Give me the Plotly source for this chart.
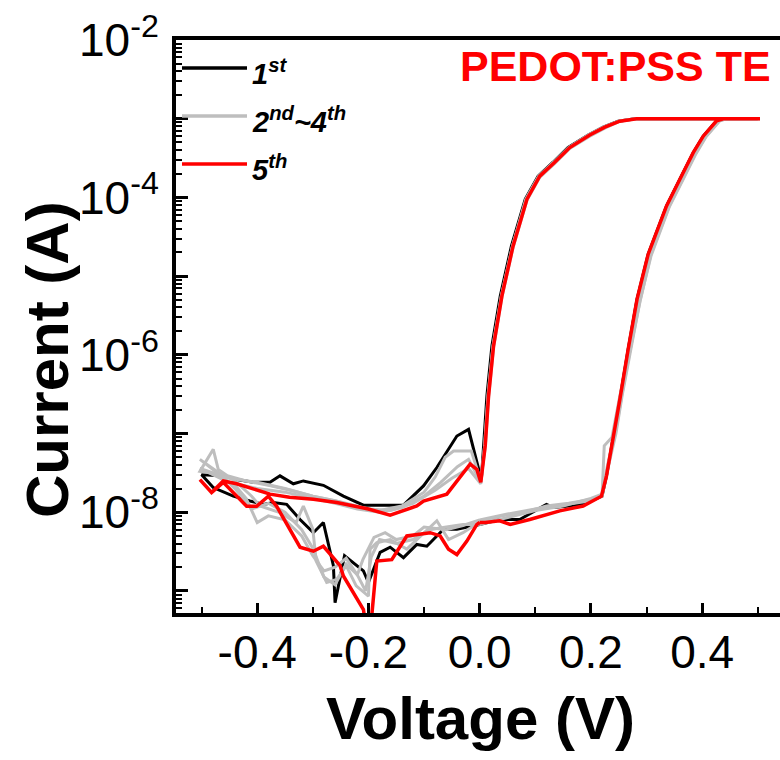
import plotly.graph_objects as go

# ---------------- data ----------------
# sweep order for every cycle: 0 -> +0.5 -> 0 -> -0.5 -> 0
black_v = [0.0, 0.036, 0.072, 0.12, 0.132, 0.16, 0.19, 0.22, 0.228, 0.24, 0.252, 0.267, 0.283, 0.303, 0.324, 0.336, 0.36, 0.384, 0.402, 0.426, 0.44, 0.5,
           0.5, 0.279, 0.249, 0.222, 0.195, 0.159, 0.132, 0.105, 0.082, 0.066, 0.057, 0.037, 0.022, 0.013, 0.007, 0.003,
           -0.02, -0.041, -0.077, -0.101, -0.137, -0.161, -0.209, -0.245, -0.281, -0.317, -0.335, -0.359, -0.377, -0.407, -0.437, -0.461, -0.5,
           -0.479, -0.443, -0.413, -0.389, -0.371, -0.347, -0.323, -0.299, -0.281, -0.263, -0.26, -0.251, -0.243, -0.209, -0.2, -0.179, -0.161, -0.137, -0.113, -0.095, -0.065, -0.041, -0.005, 0.0]
black_i = [7.0e-9, 8.1e-9, 8.1e-9, 1.26e-8, 1.15e-8, 1.2e-8, 1.3e-8, 1.6e-8, 2.9e-8, 8.5e-8, 2.7e-7, 1.18e-6, 5.1e-6, 1.9e-5, 4.6e-5, 7.8e-5, 1.7e-4, 3.7e-4, 6.0e-4, 9.4e-4, 1e-3, 1e-3,
           1e-3, 1e-3, 9.3e-4, 7.8e-4, 6.2e-4, 4.3e-4, 2.8e-4, 1.86e-4, 9.5e-5, 3.9e-5, 2.4e-5, 5.6e-6, 1.3e-6, 3.0e-7, 7.0e-8, 2.6e-8,
           1.13e-7, 9.3e-8, 3.7e-8, 2.16e-8, 1.23e-8, 1.23e-8, 1.23e-8, 1.6e-8, 2.2e-8, 2.5e-8, 2.3e-8, 2.9e-8, 2.4e-8, 2.4e-8, 2.6e-8, 2.9e-8, 3.0e-8,
           2.06e-8, 1.6e-8, 1.39e-8, 1.26e-8, 1.33e-8, 1.26e-8, 8.1e-9, 5.5e-9, 7.4e-9, 2.1e-9, 7.1e-10, 1.4e-9, 2.8e-9, 1.8e-9, 1.28e-9, 3.1e-9, 3.6e-9, 2.65e-9, 3.9e-9, 3.7e-9, 6.1e-9, 6.1e-9, 7.0e-9, 7.0e-9]

g2_v = [0.0, 0.04, 0.08, 0.12, 0.16, 0.2, 0.22, 0.224, 0.238, 0.252, 0.272, 0.289, 0.308, 0.329, 0.341, 0.365, 0.389, 0.407, 0.431, 0.444, 0.504,
        0.504, 0.282, 0.252, 0.225, 0.198, 0.162, 0.135, 0.108, 0.085, 0.069, 0.06, 0.04, 0.025, 0.016, 0.01, 0.002,
        -0.015, -0.047, -0.062, -0.08, -0.1, -0.14, -0.18, -0.22, -0.26, -0.3, -0.34, -0.38, -0.42, -0.46, -0.503,
        -0.479, -0.47, -0.44, -0.41, -0.395, -0.359, -0.33, -0.317, -0.3, -0.294, -0.275, -0.257, -0.24, -0.222, -0.2, -0.197, -0.185, -0.161, -0.131, -0.077, -0.056, -0.03, 0.0]
g2_i = [7.5e-9, 9e-9, 1.0e-8, 1.2e-8, 1.3e-8, 1.45e-8, 1.6e-8, 7e-8, 9e-8, 3e-7, 1.3e-6, 5e-6, 1.9e-5, 4.6e-5, 7.8e-5, 1.7e-4, 3.7e-4, 6e-4, 9.4e-4, 1e-3, 1e-3,
        1e-3, 1e-3, 9.3e-4, 7.6e-4, 6.0e-4, 4.2e-4, 2.7e-4, 1.8e-4, 9.2e-5, 3.8e-5, 2.3e-5, 5.4e-6, 1.25e-6, 2.9e-7, 6.8e-8, 2.5e-8,
        6.0e-8, 6.0e-8, 5.0e-8, 2.8e-8, 1.8e-8, 1.2e-8, 1.05e-8, 1.15e-8, 1.4e-8, 1.6e-8, 1.9e-8, 2.2e-8, 2.5e-8, 3.0e-8, 3.3e-8,
        6.3e-8, 3.5e-8, 2.5e-8, 1.6e-8, 1.2e-8, 9.9e-9, 7.4e-9, 1.2e-8, 6.1e-9, 2.4e-9, 1.28e-9, 1.4e-9, 2.1e-9, 1.16e-9, 8.6e-10, 3.4e-9, 4.1e-9, 4.5e-9, 3.4e-9, 7.8e-9, 4.5e-9, 5.5e-9, 7.5e-9]

g3_v = [0.0, 0.05, 0.1, 0.15, 0.2, 0.22, 0.228, 0.245, 0.256, 0.272, 0.288, 0.308, 0.329, 0.341, 0.365, 0.389, 0.407, 0.431, 0.443, 0.504,
        0.504, 0.28, 0.25, 0.222, 0.195, 0.16, 0.133, 0.106, 0.083, 0.068, 0.059, 0.039, 0.024, 0.015, 0.009, 0.002,
        -0.02, -0.04, -0.07, -0.1, -0.14, -0.18, -0.22, -0.26, -0.3, -0.35, -0.4, -0.45, -0.503,
        -0.47, -0.44, -0.41, -0.38, -0.35, -0.32, -0.3, -0.28, -0.26, -0.24, -0.22, -0.21, -0.19, -0.17, -0.15, -0.12, -0.1, -0.06, -0.03, 0.0]
g3_i = [8e-9, 9.5e-9, 1.1e-8, 1.25e-8, 1.4e-8, 1.6e-8, 3e-8, 1e-7, 3e-7, 1.2e-6, 4.8e-6, 1.8e-5, 4.5e-5, 7.6e-5, 1.65e-4, 3.6e-4, 5.9e-4, 9.3e-4, 1e-3, 1e-3,
        1e-3, 1e-3, 9.3e-4, 7.8e-4, 6.2e-4, 4.3e-4, 2.8e-4, 1.86e-4, 9.5e-5, 3.9e-5, 2.4e-5, 5.6e-6, 1.3e-6, 3.0e-7, 7.0e-8, 2.4e-8,
        4.7e-8, 3.8e-8, 2.4e-8, 1.6e-8, 1.15e-8, 1.0e-8, 1.1e-8, 1.3e-8, 1.5e-8, 1.8e-8, 2.0e-8, 2.4e-8, 4.7e-8,
        3.2e-8, 2.0e-8, 1.1e-8, 1.3e-8, 1.0e-8, 6e-9, 3.5e-9, 1.5e-9, 1.2e-9, 2.2e-9, 1.6e-9, 2.5e-9, 4.8e-9, 5.5e-9, 4.5e-9, 5e-9, 6.5e-9, 6e-9, 6.8e-9, 8e-9]

g4_v = [0.0, 0.05, 0.1, 0.15, 0.2, 0.22, 0.23, 0.245, 0.256, 0.271, 0.287, 0.307, 0.328, 0.34, 0.364, 0.388, 0.406, 0.43, 0.442, 0.504,
        0.504, 0.281, 0.251, 0.224, 0.197, 0.161, 0.134, 0.107, 0.084, 0.068, 0.059, 0.039, 0.024, 0.015, 0.009, 0.002,
        -0.02, -0.05, -0.08, -0.12, -0.16, -0.2, -0.25, -0.3, -0.35, -0.4, -0.45, -0.503,
        -0.47, -0.44, -0.42, -0.4, -0.38, -0.35, -0.32, -0.3, -0.28, -0.26, -0.24, -0.22, -0.205, -0.195, -0.18, -0.15, -0.12, -0.09, -0.06, -0.03, 0.0]
g4_i = [7e-9, 8.5e-9, 1.05e-8, 1.2e-8, 1.5e-8, 1.7e-8, 4e-8, 1.1e-7, 3.2e-7, 1.2e-6, 5e-6, 1.9e-5, 4.6e-5, 7.8e-5, 1.7e-4, 3.7e-4, 6e-4, 9.4e-4, 1e-3, 1e-3,
        1e-3, 1e-3, 9.3e-4, 7.8e-4, 6.2e-4, 4.3e-4, 2.8e-4, 1.86e-4, 9.5e-5, 3.9e-5, 2.4e-5, 5.6e-6, 1.3e-6, 3.0e-7, 7.0e-8, 2.3e-8,
        3.6e-8, 2.7e-8, 1.9e-8, 1.3e-8, 1.05e-8, 1.1e-8, 1.35e-8, 1.6e-8, 2.0e-8, 2.4e-8, 2.7e-8, 3.6e-8,
        2.8e-8, 2.2e-8, 1.5e-8, 7.4e-9, 9e-9, 8e-9, 5e-9, 2.8e-9, 1.8e-9, 2.0e-9, 2.6e-9, 1.6e-9, 1.0e-9, 2.7e-9, 4.5e-9, 4.0e-9, 4.5e-9, 6e-9, 6.5e-9, 7e-9, 7e-9]

red_v = [0.0, 0.01, 0.036, 0.055, 0.09, 0.144, 0.186, 0.219, 0.228, 0.24, 0.252, 0.267, 0.283, 0.303, 0.324, 0.336, 0.36, 0.384, 0.402, 0.426, 0.438, 0.504,
         0.504, 0.282, 0.252, 0.225, 0.198, 0.162, 0.135, 0.108, 0.085, 0.069, 0.06, 0.04, 0.025, 0.016, 0.01, 0.002,
         -0.005, -0.017, -0.048, -0.059, -0.101, -0.113, -0.161, -0.2, -0.257, -0.299, -0.342, -0.377, -0.437, -0.461, -0.482, -0.503,
         -0.482, -0.461, -0.437, -0.419, -0.401, -0.38, -0.365, -0.323, -0.299, -0.281, -0.251, -0.245, -0.209, -0.199, -0.185, -0.158, -0.131, -0.089, -0.071, -0.056, -0.041, -0.023, -0.005, 0.0]
red_i = [7.4e-9, 7.4e-9, 7.8e-9, 7.0e-9, 8.1e-9, 1.04e-8, 1.2e-8, 1.6e-8, 2.9e-8, 8.5e-8, 2.7e-7, 1.18e-6, 5.1e-6, 1.9e-5, 4.6e-5, 7.8e-5, 1.7e-4, 3.7e-4, 6.0e-4, 9.4e-4, 1e-3, 1e-3,
         1e-3, 1e-3, 9.3e-4, 7.8e-4, 6.2e-4, 4.3e-4, 2.8e-4, 1.86e-4, 9.5e-5, 3.9e-5, 2.4e-5, 5.6e-6, 1.3e-6, 3.0e-7, 7.0e-8, 2.4e-8,
         3.5e-8, 4.1e-8, 2.16e-8, 1.7e-8, 1.39e-8, 1.2e-8, 9.2e-9, 1.1e-8, 1.33e-8, 1.46e-8, 1.55e-8, 1.7e-8, 2.3e-8, 2.5e-8, 1.78e-8, 2.6e-8,
         1.78e-8, 2.4e-8, 1.6e-8, 1.19e-8, 1.19e-8, 1.6e-8, 1.19e-8, 3.6e-9, 3.2e-9, 3.7e-9, 2.1e-9, 1.55e-9, 5.8e-10, 2e-10, 2.4e-9, 2.5e-9, 5.0e-9, 5.5e-9, 5.0e-9, 3.4e-9, 2.9e-9, 4.3e-9, 7.0e-9, 7.4e-9]

legend_labels = ["<i>1<sup>st</sup></i>", "<i>2<sup>nd</sup>~4<sup>th</sup></i>", "<i>5<sup>th</sup></i>"]
x_ticks = [-0.4, -0.2, 0.0, 0.2, 0.4]
x_ticktext = ["-0.4", "-0.2", "0.0", "0.2", "0.4"]
y_exponents = [-9, -8, -7, -6, -5, -4, -3, -2]
y_labelled = [-8, -6, -4, -2]

# ---------------- styling ----------------
FONT = "Liberation Sans, Arial, sans-serif"
BLACK, GRAY, RED = "#000000", "#bebebe", "#ff0000"
W, H = 780, 760
ML, MR, MT, MB = 176, 0, 40, 147
PW, PH = W - ML - MR, H - MT - MB


def px_x(px):
    return (px - ML) / PW


def px_y(py):
    return (H - MB - py) / PH


fig = go.Figure()
fig.add_trace(go.Scatter(x=black_v, y=black_i, mode="lines", name="1st",
                         line=dict(color=BLACK, width=3), showlegend=False))
for name, v, i in [("2nd", g2_v, g2_i), ("3rd", g3_v, g3_i), ("4th", g4_v, g4_i)]:
    fig.add_trace(go.Scatter(x=v, y=i, mode="lines", name=name,
                             line=dict(color=GRAY, width=3), showlegend=False))
fig.add_trace(go.Scatter(x=red_v, y=red_i, mode="lines", name="5th",
                         line=dict(color=RED, width=3.5), showlegend=False))

# minor tick positions for the log axis
minor_vals = [k * 10.0 ** e for e in range(-10, -1) for k in range(2, 10)]

fig.update_xaxes(range=[-0.546, 0.540], showgrid=False, zeroline=False,
                 showline=True, linewidth=4, linecolor=BLACK, mirror=True,
                 ticks="inside", ticklen=10, tickwidth=2.5, tickcolor=BLACK,
                 tickmode="array", tickvals=x_ticks, ticktext=x_ticktext,
                 ticklabelstandoff=-4,
                 tickfont=dict(family=FONT, size=46, color=BLACK),
                 minor=dict(ticks="inside", ticklen=6, tickwidth=2, tickcolor=BLACK,
                            tickmode="array", tickvals=[-0.5, -0.3, -0.1, 0.1, 0.3, 0.5]))
fig.update_yaxes(type="log", range=[-9.28, -2.0], showgrid=False, zeroline=False,
                 showline=True, linewidth=4, linecolor=BLACK, mirror=False,
                 ticks="inside", ticklen=12, tickwidth=2.5, tickcolor=BLACK,
                 tickmode="array", tickvals=[10.0 ** e for e in y_exponents],
                 ticktext=[("10<sup>%d</sup>" % e) if e in y_labelled else "" for e in y_exponents],
                 ticklabelstandoff=4,
                 tickfont=dict(family=FONT, size=46, color=BLACK),
                 minor=dict(ticks="inside", ticklen=6, tickwidth=2, tickcolor=BLACK,
                            tickmode="array", tickvals=minor_vals))

shapes = []
annotations = []
legend_rows = [(68, BLACK), (116, GRAY), (164, RED)]
for (ly, col), label in zip(legend_rows, legend_labels):
    shapes.append(dict(type="line", xref="paper", yref="paper",
                       x0=px_x(182), x1=px_x(247), y0=px_y(ly), y1=px_y(ly),
                       line=dict(color=col, width=3.5)))
    annotations.append(dict(text=label, xref="paper", yref="paper",
                            x=px_x(250), y=px_y(ly + 4), xanchor="left", yanchor="middle",
                            showarrow=False,
                            font=dict(family=FONT, size=29, color=BLACK, weight="bold")))

annotations.append(dict(text="PEDOT:PSS TE", xref="paper", yref="paper",
                        x=px_x(773), y=px_y(66), xanchor="right", yanchor="middle",
                        showarrow=False,
                        font=dict(family=FONT, size=43, color=RED, weight="bold")))
annotations.append(dict(text="Voltage (V)", xref="paper", yref="paper",
                        x=px_x(480), y=px_y(718), xanchor="center", yanchor="middle",
                        showarrow=False,
                        font=dict(family=FONT, size=60, color=BLACK, weight="bold")))
annotations.append(dict(text="Current (A)", xref="paper", yref="paper",
                        x=px_x(47), y=px_y(360), xanchor="center", yanchor="middle",
                        textangle=-90, showarrow=False,
                        font=dict(family=FONT, size=60, color=BLACK, weight="bold")))

fig.update_layout(width=W, height=H, autosize=False,
                  margin=dict(l=ML, r=MR, t=MT, b=MB, pad=0),
                  paper_bgcolor="white", plot_bgcolor="white",
                  shapes=shapes, annotations=annotations,
                  font=dict(family=FONT, color=BLACK), showlegend=False)

fig.write_html("out.html")
